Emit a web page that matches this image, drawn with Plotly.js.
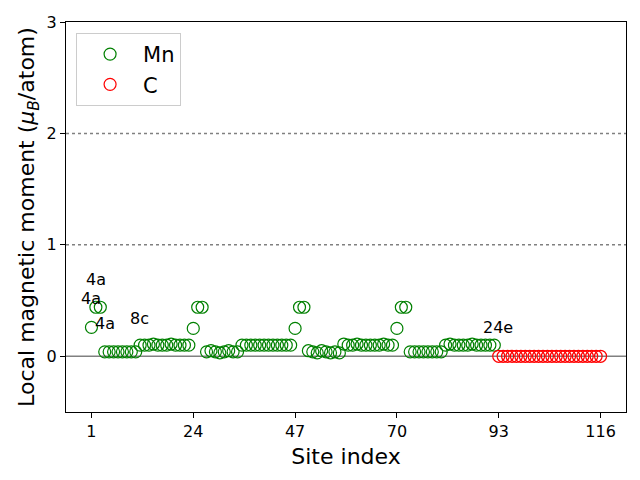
<!DOCTYPE html>
<html>
<head>
<meta charset="utf-8">
<script src="https://cdn.plot.ly/plotly-3.0.1.min.js"></script>
<style>
  body { margin: 0; }
  #chart { width: 640px; height: 480px; }
</style>
</head>
<body>
<div id="chart"></div>
<script>
// local moments per site, Mn sites 1-92, C sites 93-116
var mnMoments = [
    0.26, 0.44, 0.44,
    0.04, 0.04, 0.04, 0.04, 0.04, 0.04, 0.04, 0.04,
    0.10, 0.10, 0.10, 0.11, 0.10, 0.10, 0.10, 0.11, 0.10, 0.10, 0.10, 0.10,
    0.25, 0.44, 0.44,
    0.04, 0.05, 0.04, 0.03, 0.04, 0.05, 0.04, 0.04,
    0.10, 0.10, 0.10, 0.10, 0.10, 0.10, 0.10, 0.10, 0.10, 0.10, 0.10, 0.10,
    0.25, 0.44, 0.44,
    0.05, 0.04, 0.03, 0.05, 0.04, 0.03, 0.04, 0.03,
    0.11, 0.10, 0.10, 0.11, 0.10, 0.10, 0.10, 0.10, 0.10, 0.11, 0.10, 0.10,
    0.25, 0.44, 0.44,
    0.04, 0.04, 0.04, 0.04, 0.04, 0.04, 0.04, 0.04,
    0.10, 0.11, 0.10, 0.10, 0.10, 0.10, 0.11, 0.10, 0.10, 0.10, 0.10, 0.10
];
var cMoments = [
    0, 0, 0, 0, 0, 0, 0, 0, 0, 0, 0, 0,
    0, 0, 0, 0, 0, 0, 0, 0, 0, 0, 0, 0
];
var xTicks = [1, 24, 47, 70, 93, 116];
var yTicks = [0, 1, 2, 3];

var siteLabels = ['4a', '4a', '4a', '8c', '24e'];
var labelX = [1.95, 1.0, 4.06, 11.8, 92.8];
var labelY = [0.69, 0.52, 0.29, 0.34, 0.26];

var mn = {
    y: mnMoments,
    x0: 1,
    dx: 1,
    name: 'Mn',
    type: 'scatter',
    mode: 'markers',
    marker: {symbol: 'circle-open', size: 12, color: 'green', line: {width: 1.2}}
};

var c = {
    y: cMoments,
    x0: 93,
    dx: 1,
    name: 'C',
    type: 'scatter',
    mode: 'markers',
    marker: {symbol: 'circle-open', size: 12, color: 'red', line: {width: 1.2}}
};

var annotations = siteLabels.map(function (t, i) {
    return {
        x: labelX[i], y: labelY[i], xref: 'x', yref: 'y',
        text: t, showarrow: false,
        font: {size: 16, color: 'black'}
    };
});

var hline = function (y, dash) {
    return {
        type: 'line', xref: 'paper', yref: 'y', x0: 0, x1: 1, y0: y, y1: y,
        line: {color: 'gray', width: 1.5, dash: dash}, layer: 'below'
    };
};

var layout = {
    width: 640,
    height: 480,
    margin: {l: 66, r: 14, t: 22, b: 68},
    paper_bgcolor: 'white',
    plot_bgcolor: 'white',
    font: {family: 'DejaVu Sans', color: 'black', size: 16},
    showlegend: true,
    legend: {
        x: 0.018, y: 0.972, xanchor: 'left', yanchor: 'top',
        bordercolor: '#cccccc', borderwidth: 1, bgcolor: 'white',
        font: {size: 21}, itemwidth: 56
    },
    xaxis: {
        range: [-4.75, 121.75],
        tickvals: xTicks,
        ticks: 'outside', ticklen: 5, tickcolor: 'black',
        showline: true, linecolor: 'black', linewidth: 1, mirror: true,
        showgrid: false, zeroline: false,
        title: {text: 'Site index', font: {size: 22}, standoff: 8}
    },
    yaxis: {
        range: [-0.5, 3],
        tickvals: yTicks,
        ticks: 'outside', ticklen: 5, tickcolor: 'black',
        showline: true, linecolor: 'black', linewidth: 1, mirror: true,
        showgrid: false, zeroline: false,
        title: {text: 'Local magnetic moment (<i>μ</i><sub><i>B</i></sub>/atom)', font: {size: 22}, standoff: 5}
    },
    shapes: [hline(0, 'solid'), hline(1, 'dot'), hline(2, 'dot')],
    annotations: annotations
};

Plotly.newPlot('chart', [mn, c], layout, {displayModeBar: false});
</script>
</body>
</html>
